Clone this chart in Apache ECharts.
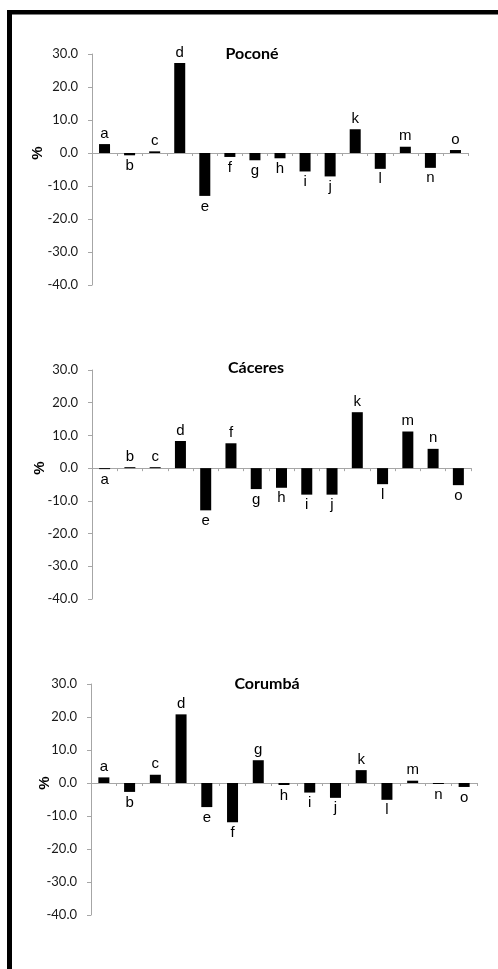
<!DOCTYPE html>
<html>
<head>
<meta charset="utf-8">
<script src="https://cdn.jsdelivr.net/npm/echarts@6/dist/echarts.min.js"></script>
<style>
html,body{margin:0;padding:0;background:#fff;}
#chart{width:498px;height:969px;}
</style>
</head>
<body>
<div id="chart"></div>
<script>
// ---- data ----
const categories = ['a','b','c','d','e','f','g','h','i','j','k','l','m','n','o'];
const panelTitles = ['Poconé', 'Cáceres', 'Corumbá'];
const poconeValues  = [2.7, -0.7, 0.5, 27.3, -13.0, -1.2, -2.2, -1.6, -5.6, -7.1, 7.2, -4.8, 1.9, -4.5, 0.9];
const caceresValues = [-0.3, 0.3, 0.3, 8.3, -12.9, 7.6, -6.4, -6.0, -8.1, -8.1, 17.1, -4.9, 11.2, 5.9, -5.2];
const corumbaValues = [1.7, -2.7, 2.5, 20.8, -7.3, -11.9, 6.9, -0.6, -2.9, -4.5, 3.9, -5.1, 0.7, -0.3, -1.2];
const yMin = -40, yMax = 30, yStep = 10;
const axisTitle = '%';

// ---- layout ----
const panelValues = [poconeValues, caceresValues, corumbaValues];
const grids = [
  {left: 92, top: 54,  width: 376, height: 231},
  {left: 92, top: 370, width: 379, height: 229},
  {left: 91, top: 684, width: 386, height: 231}
];
const titlePos = [[252, 54], [256, 368], [267, 684]];
const pctPos = [[38, 153], [40, 468], [45, 783]];

const axisGray = '#a6a6a6';
const chart = echarts.init(document.getElementById('chart'));

const option = {
  animation: false,
  backgroundColor: '#ffffff',
  grid: grids.map(g => Object.assign({containLabel: false}, g)),
  xAxis: grids.map((g, i) => ({
    type: 'category',
    gridIndex: i,
    data: categories,
    axisLine: {show: true, onZero: true, lineStyle: {color: axisGray, width: 1}},
    axisTick: {show: true, length: 3, lineStyle: {color: axisGray}},
    axisLabel: {show: false},
    splitLine: {show: false}
  })),
  yAxis: grids.map((g, i) => ({
    type: 'value',
    gridIndex: i,
    min: yMin, max: yMax, interval: yStep,
    axisLine: {show: true, lineStyle: {color: axisGray, width: 1}},
    axisTick: {show: true, length: 4, lineStyle: {color: axisGray}},
    splitLine: {show: false},
    axisLabel: {
      margin: 14,
      color: '#1a1a1a',
      fontFamily: 'Lato',
      fontSize: 13,
      formatter: v => v.toFixed(1)
    }
  })),
  series: panelValues.map((vals, i) => ({
    type: 'bar',
    xAxisIndex: i,
    yAxisIndex: i,
    barWidth: 11,
    itemStyle: {color: '#000000'},
    data: vals.map(v => ({
      value: v,
      label: {position: v >= 0 ? 'top' : 'bottom'}
    })),
    label: {
      show: true,
      formatter: '{b}',
      distance: 3,
      color: '#000000',
      fontFamily: 'Liberation Sans',
      fontSize: 15
    }
  })),
  graphic: [
    {type: 'rect', shape: {x: 7, y: 10, width: 491, height: 4.5}, style: {fill: '#000'}},
    {type: 'rect', shape: {x: 7, y: 10, width: 5, height: 959}, style: {fill: '#000'}}
  ].concat(panelTitles.map((t, i) => ({
    type: 'text',
    x: titlePos[i][0], y: titlePos[i][1],
    style: {
      text: t, fill: '#000',
      font: 'bold 16px Lato',
      textAlign: 'center', textVerticalAlign: 'middle'
    }
  }))).concat(pctPos.map(p => ({
    type: 'text',
    x: p[0], y: p[1],
    rotation: Math.PI / 2,
    style: {
      text: axisTitle, fill: '#000',
      font: 'bold 15px "Liberation Sans"',
      textAlign: 'center', textVerticalAlign: 'middle'
    }
  })))
};
chart.setOption(option);
</script>
</body>
</html>
